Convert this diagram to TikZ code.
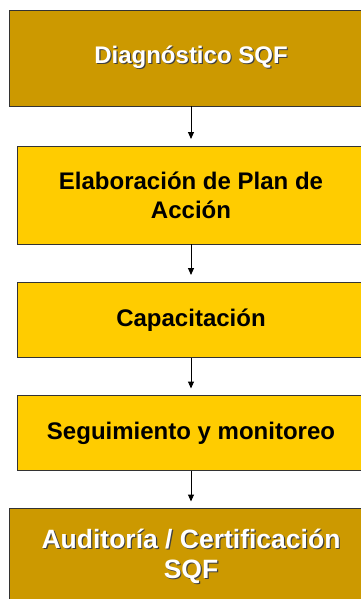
\documentclass[tikz,border=0pt]{standalone}
\usepackage{fontspec}
\setmainfont{Liberation Sans}
\usetikzlibrary{positioning,arrows.meta}
\definecolor{oro}{RGB}{204,153,0}
\definecolor{amarillo}{RGB}{255,204,0}
\newcommand{\sombra}[1]{\leavevmode\rlap{\hspace{1.2pt}\raisebox{-1.2pt}{\color{black!75}#1}}#1}

\begin{document}
\begin{tikzpicture}[-{Triangle[length=7pt,width=6pt]}, semithick, line width=1pt,
node distance = 38pt,
paso/.style ={ rectangle, draw=black!80, line width=0.8pt, fill=amarillo,
 minimum width =348pt, align=center, outer sep=0pt,
 font=\fontsize{24}{29}\selectfont\bfseries},
pasooro/.style ={ paso, fill=oro, minimum width =363pt, minimum height =96pt,
 text=white}]
\useasboundingbox (0,0) rectangle (361pt,-599pt);
\node[pasooro] (diag) at (191pt,-58pt) {\sombra{Diagnóstico SQF}};
\node[paso, minimum height=98pt, below=40pt of diag] (plan) {Elaboración de Plan de\\Acción};
\node[paso, minimum height=75.5pt] (capac) [below=of plan] {Capacitación};
\node[paso, minimum height=75pt] (segui) [below=of capac] {Seguimiento y monitoreo};
\node[pasooro, font=\fontsize{26.5}{30}\selectfont\bfseries] (audit) [below=of segui]
 {\sombra{Auditoría / Certificación}\\\sombra{SQF}};

\path (diag) edge[shorten >=7pt] (plan);
\path (plan) edge[shorten >=7pt] (capac);
\path (capac) edge[shorten >=7pt] (segui);
\path (segui) edge[shorten >=7pt] (audit);
\end{tikzpicture}
\end{document}
